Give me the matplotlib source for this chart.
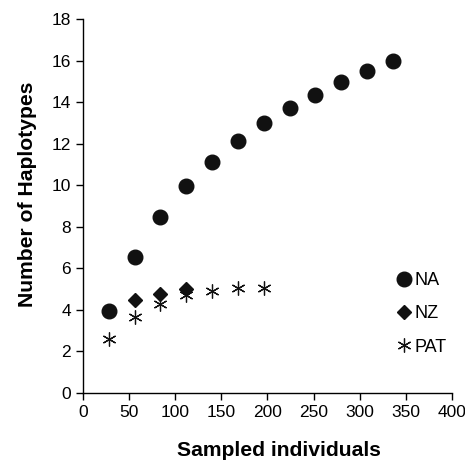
import matplotlib
matplotlib.use("Agg")
import matplotlib.pyplot as plt

plt.rcParams['font.family'] = ['Liberation Sans', 'DejaVu Sans']

na_x = [28, 56, 84, 112, 140, 168, 196, 224, 252, 280, 308, 336]
na_y = [3.95, 6.55, 8.5, 9.97, 11.15, 12.15, 13.0, 13.75, 14.38, 14.97, 15.52, 16.0]
nz_x = [56, 84, 112]
nz_y = [4.5, 4.75, 5.0]
pat_x = [28, 56, 84, 112, 140, 168, 196]
pat_y = [2.6, 3.65, 4.3, 4.7, 4.92, 5.05, 5.05]

fig = plt.figure(figsize=(4.65, 4.61), dpi=100)
ax = fig.add_axes([0.1785, 0.1475, 0.7935, 0.8105])

ax.plot(na_x, na_y, linestyle='none', marker='o', markersize=10.5, color='#111111', label='NA')
ax.plot(nz_x, nz_y, linestyle='none', marker='D', markersize=7, color='#111111', label='NZ')
ax.plot(pat_x, pat_y, linestyle='none', marker=(6, 2, 0), markersize=10, markeredgewidth=0.9,
        color='#111111', label='PAT')

ax.set_xlim(0, 400)
ax.set_ylim(0, 18)
ax.set_xticks(range(0, 401, 50))
ax.set_yticks(range(0, 19, 2))
for s in ['top', 'right']:
    ax.spines[s].set_visible(False)
for s in ['left', 'bottom']:
    ax.spines[s].set_linewidth(1.0)
ax.tick_params(direction='out', length=5, width=1, labelsize=12.5)

ax.set_xlabel('Sampled individuals', fontsize=15.2, fontweight='bold', labelpad=15)
ax.set_ylabel('Number of Haplotypes', fontsize=15.2, fontweight='bold', labelpad=11)
ax.xaxis.label.set_x(0.53)
ax.yaxis.label.set_y(0.532)

ax.legend(loc='center left', bbox_to_anchor=(0.826, 0.212), frameon=False, fontsize=13,
          handletextpad=0.1, labelspacing=0.9, handlelength=1.0, borderaxespad=0)

fig.savefig('out.png', dpi=100)
